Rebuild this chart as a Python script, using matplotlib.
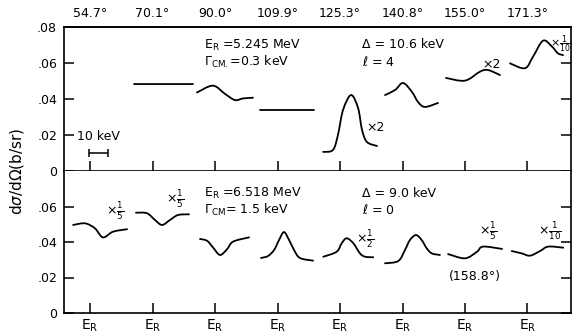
import numpy as np
import matplotlib
matplotlib.use("Agg")
import matplotlib.pyplot as plt
from matplotlib.path import Path
from matplotlib.patches import PathPatch

plt.rcParams['font.family'] = ['DejaVu Sans']
plt.rcParams['mathtext.fontset'] = 'dejavusans'

# ---------------- data ----------------
angles = ["54.7°", "70.1°", "90.0°", "109.9°", "125.3°", "140.8°", "155.0°", "171.3°"]
y_ticks_upper = [0, 0.02, 0.04, 0.06, 0.08]
y_tick_labels_upper = ["0", ".02", ".04", ".06", ".08"]
y_ticks_lower = [0, 0.02, 0.04, 0.06]
y_tick_labels_lower = ["0", ".02", ".04", ".06"]

# energy offsets (keV, relative to E_R) and cross sections (b/sr) per angle
upper_offsets = [
    None,
    [-9.7, 21.3],
    [-9.5, -1.1, 5.3, 10.5, 14.7, 20.0],
    [-9.2, 19.2],
    [-8.9, -3.7, -1.1, 1.6, 5.8, 9.5, 11.6, 14.2, 19.5],
    [-9.2, -3.9, 0.3, 5.0, 8.2, 11.8, 18.7],
    [-10.0, 0.0, 7.9, 12.1, 18.4],
    [-9.2, -1.3, 2.9, 8.2, 12.9, 16.0, 18.7],
]
upper_values = [
    None,
    [0.0483, 0.0483],
    [0.0436, 0.0474, 0.0428, 0.0394, 0.0403, 0.0407],
    [0.0339, 0.0339],
    [0.0106, 0.0117, 0.0200, 0.0339, 0.0422, 0.0350, 0.0228, 0.0161, 0.0139],
    [0.0422, 0.0450, 0.0489, 0.0439, 0.0383, 0.0356, 0.0378],
    [0.0517, 0.0502, 0.0552, 0.0561, 0.0533],
    [0.0598, 0.0571, 0.0635, 0.0724, 0.0691, 0.0654, 0.0644],
]
lower_offsets = [
    [-8.9, -2.6, 2.6, 6.8, 12.1, 19.5],
    [-8.7, -2.9, 1.3, 5.0, 9.2, 13.4, 19.2],
    [-7.9, -4.2, -1.1, 2.6, 6.3, 9.5, 17.9],
    [-8.7, -5.0, -1.8, 0.8, 3.4, 6.1, 8.7, 11.8, 18.7],
    [-8.8, -1.8, 0.9, 3.5, 7.0, 10.5, 13.2, 17.5],
    [-9.2, -2.2, 1.3, 3.9, 7.1, 10.1, 12.7, 15.4, 19.7],
    [-8.9, 0.0, 6.3, 9.5, 19.5],
    [-8.3, -3.1, 1.3, 6.6, 10.9, 18.8],
]
lower_values = [
    [0.0496, 0.0505, 0.0477, 0.0426, 0.0458, 0.0472],
    [0.0565, 0.0562, 0.0524, 0.0496, 0.0524, 0.0552, 0.0556],
    [0.0417, 0.0407, 0.0370, 0.0327, 0.0359, 0.0402, 0.0426],
    [0.0310, 0.0321, 0.0355, 0.0411, 0.0456, 0.0411, 0.0355, 0.0310, 0.0295],
    [0.0317, 0.0345, 0.0393, 0.0421, 0.0393, 0.0336, 0.0317, 0.0314],
    [0.0280, 0.0293, 0.0355, 0.0411, 0.0439, 0.0411, 0.0365, 0.0336, 0.0327],
    [0.0332, 0.0308, 0.0345, 0.0374, 0.0361],
    [0.0349, 0.0336, 0.0323, 0.0349, 0.0374, 0.0368],
]

# curve annotations: (angle index, text, keV offset, y, fontsize)
upper_notes = [
    (4, "×2", 13.7, 0.0244, 9),
    (6, "×2", 8.9, 0.0589, 9),
    (7, r"$\times\frac{1}{10}$", 11.8, 0.0705, 8),
]
lower_notes = [
    (0, r"$\times\frac{1}{5}$", 8.6, 0.0575, 9),
    (1, r"$\times\frac{1}{5}$", 7.3, 0.0640, 9),
    (4, r"$\times\frac{1}{2}$", 8.6, 0.0415, 9),
    (6, r"$\times\frac{1}{5}$", 7.6, 0.0460, 9),
    (7, r"$\times\frac{1}{10}$", 5.7, 0.0460, 9),
]

KEV_PER_STEP = 32.9
FS = 9

# ---------------- figure ----------------
fig = plt.figure(figsize=(5.72, 3.33), dpi=100)
ax_u = fig.add_axes([64 / 572, 1 - 171 / 333, 507 / 572, 144 / 333])
ax_l = fig.add_axes([64 / 572, 1 - 313 / 333, 507 / 572, 142 / 333])

xpos = [i * KEV_PER_STEP for i in range(len(angles))]


def smooth_patch(ax, xs, ys):
    pts = np.column_stack([xs, ys])
    n = len(pts)
    verts = [pts[0]]
    codes = [Path.MOVETO]
    for i in range(n - 1):
        p0 = pts[max(i - 1, 0)]
        p1 = pts[i]
        p2 = pts[i + 1]
        p3 = pts[min(i + 2, n - 1)]
        c1 = p1 + (p2 - p0) / 6.0
        c2 = p2 - (p3 - p1) / 6.0
        verts += [c1, c2, p2]
        codes += [Path.CURVE4] * 3
    patch = PathPatch(Path(verts, codes), fill=False, lw=1.3, edgecolor='black',
                      transform=ax.transData, capstyle='round', joinstyle='round')
    ax.add_patch(patch)


for ax, offs, vals in [(ax_u, upper_offsets, upper_values),
                       (ax_l, lower_offsets, lower_values)]:
    for i, (o, v) in enumerate(zip(offs, vals)):
        if o is None:
            continue
        xs = np.array(o) + xpos[i]
        smooth_patch(ax, xs, np.array(v))

for ax in (ax_u, ax_l):
    ax.set_xlim(-13.7, 253.2)
    ax.set_ylim(0, 0.08)
    for sp in ax.spines.values():
        sp.set_linewidth(1.2)
    ax.tick_params(axis='y', direction='in', length=7, width=1.1, labelsize=FS,
                   pad=5, right=True, labelright=False)
    ax.tick_params(axis='x', direction='in', length=7, width=1.1, labelsize=FS)

# upper panel
ax_u.set_yticks(y_ticks_upper, y_tick_labels_upper)
ax_u.set_xticks(xpos, [""] * len(xpos))
ax_u.tick_params(axis='x', bottom=True, top=False, labelbottom=False)
top = ax_u.secondary_xaxis('top')
top.set_xticks(xpos, angles)
top.tick_params(length=0, labelsize=FS, pad=5)
top.spines['top'].set_linewidth(1.2)

# lower panel
ax_l.set_yticks(y_ticks_lower, y_tick_labels_lower)
ax_l.set_xticks(xpos, [r"$\mathrm{E_R}$"] * len(xpos))
ax_l.tick_params(axis='x', bottom=True, top=False, labelsize=FS + 1, pad=3)
ax_l.spines['top'].set_visible(False)

# parameter texts
ax_u.text(0.276, 0.875, r"E$_\mathrm{R}$ =5.245 MeV", transform=ax_u.transAxes,
          fontsize=FS, va='center', ha='left')
ax_u.text(0.276, 0.757, r"$\Gamma_{\mathrm{CM.}}$=0.3 keV", transform=ax_u.transAxes,
          fontsize=FS, va='center', ha='left')
ax_u.text(0.588, 0.875, "Δ = 10.6 keV", transform=ax_u.transAxes,
          fontsize=FS, va='center', ha='left')
ax_u.text(0.588, 0.757, r"$\ell$ = 4", transform=ax_u.transAxes,
          fontsize=FS, va='center', ha='left')

ax_l.text(0.276, 0.845, r"E$_\mathrm{R}$ =6.518 MeV", transform=ax_l.transAxes,
          fontsize=FS, va='center', ha='left')
ax_l.text(0.276, 0.725, r"$\Gamma_{\mathrm{CM}}$= 1.5 keV", transform=ax_l.transAxes,
          fontsize=FS, va='center', ha='left')
ax_l.text(0.588, 0.845, "Δ = 9.0 keV", transform=ax_l.transAxes,
          fontsize=FS, va='center', ha='left')
ax_l.text(0.588, 0.725, r"$\ell$ = 0", transform=ax_l.transAxes,
          fontsize=FS, va='center', ha='left')

for i, t, dx, yy, fs in upper_notes:
    ax_u.text(xpos[i] + dx, yy, t, fontsize=fs, va='center', ha='left')
for i, t, dx, yy, fs in lower_notes:
    ax_l.text(xpos[i] + dx, yy, t, fontsize=fs, va='center', ha='left')

ax_l.text(xpos[6] + 5.3, 0.0203, "(158.8°)", fontsize=FS, va='center', ha='center')

# 10 keV scale bar
ax_u.errorbar([xpos[0] + 4.6], [0.010], xerr=[5.0], fmt='none', ecolor='black',
              elinewidth=1.1, capsize=3, capthick=1.1)
ax_u.text(xpos[0] + 4.6, 0.019, "10 keV", fontsize=FS, ha='center', va='center')

fig.text(17 / 572, 1 - 171 / 333, r"d$\sigma$/d$\Omega$(b/sr)", rotation=90,
         fontsize=11, ha='center', va='center')

fig.savefig("out.png", dpi=100)
